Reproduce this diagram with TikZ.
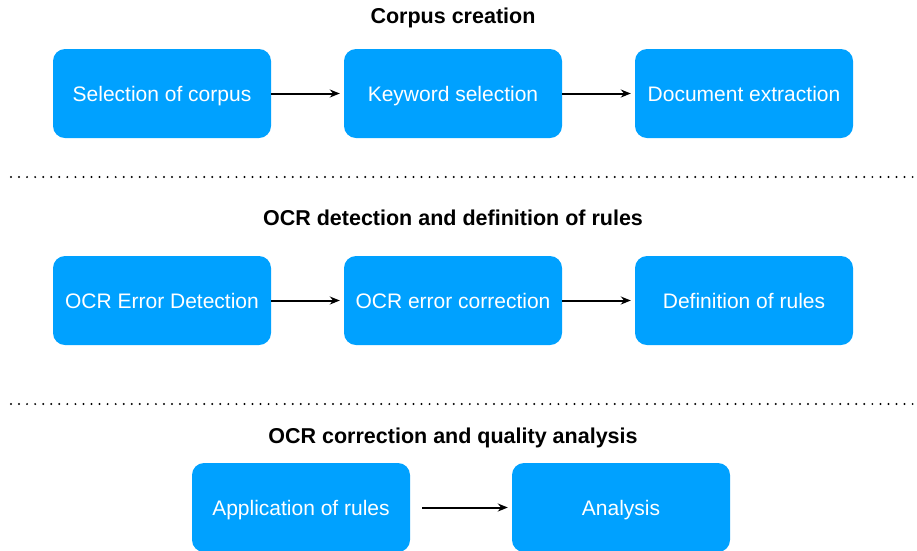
\documentclass[tikz,border=0pt]{standalone}
\usepackage{fontspec}
\setmainfont{Liberation Sans}
\usetikzlibrary{arrows.meta}
\definecolor{boxblue}{RGB}{0,161,255}
\tikzset{
  stage/.style={fill=boxblue, text=white, rounded corners=12pt, minimum width=218pt, minimum height=89pt, inner sep=0pt, text height=15pt, text depth=0pt, font=\fontsize{21}{24}\selectfont},
  heading/.style={text height=15.5pt, text depth=0pt, font=\bfseries\fontsize{21.5}{25}\selectfont},
  flow/.style={-{Stealth[length=10pt,width=8pt]}, line width=2pt, shorten >=4pt},
  divider/.style={line width=2.2pt, line cap=round, dash pattern=on 0pt off 8.05pt}
}
\begin{document}
\begin{tikzpicture}[x=1pt,y=-1pt]
\useasboundingbox (0,0) rectangle (917,550);
% headings
\node [heading] (H1) at (453,16) {Corpus creation};
\node [heading] (H2) at (453,218) {OCR detection and definition of rules};
\node [heading] (H3) at (453,436) {OCR correction and quality analysis};
% first row
\node [stage] (S1) at (162,93.5) {Selection of corpus};
\node [stage] (S2) at (453,93.5) {Keyword selection};
\node [stage] (S3) at (744,93.5) {Document extraction};
% second row
\node [stage] (D1) at (162,300.5) {OCR Error Detection};
\node [stage] (D2) at (453,300.5) {OCR error correction};
\node [stage] (D3) at (744,300.5) {Definition of rules};
% third row
\node [stage] (A1) at (301,507.5) {Application of rules};
\node [stage] (A2) at (621,507.5) {Analysis};
\draw [flow] (S1) -- (S2);
\draw [flow] (S2) -- (S3);
\draw [flow] (D1) -- (D2);
\draw [flow] (D2) -- (D3);
\draw [flow, shorten <=12pt] (A1) -- (A2);
% dotted separators
\coordinate (L0) at (11,177);
\coordinate (L1) at (915,177);
\coordinate (M0) at (11,404);
\coordinate (M1) at (915,404);
\draw [divider] (L0) -- (L1);
\draw [divider] (M0) -- (M1);
\end{tikzpicture}
\end{document}
